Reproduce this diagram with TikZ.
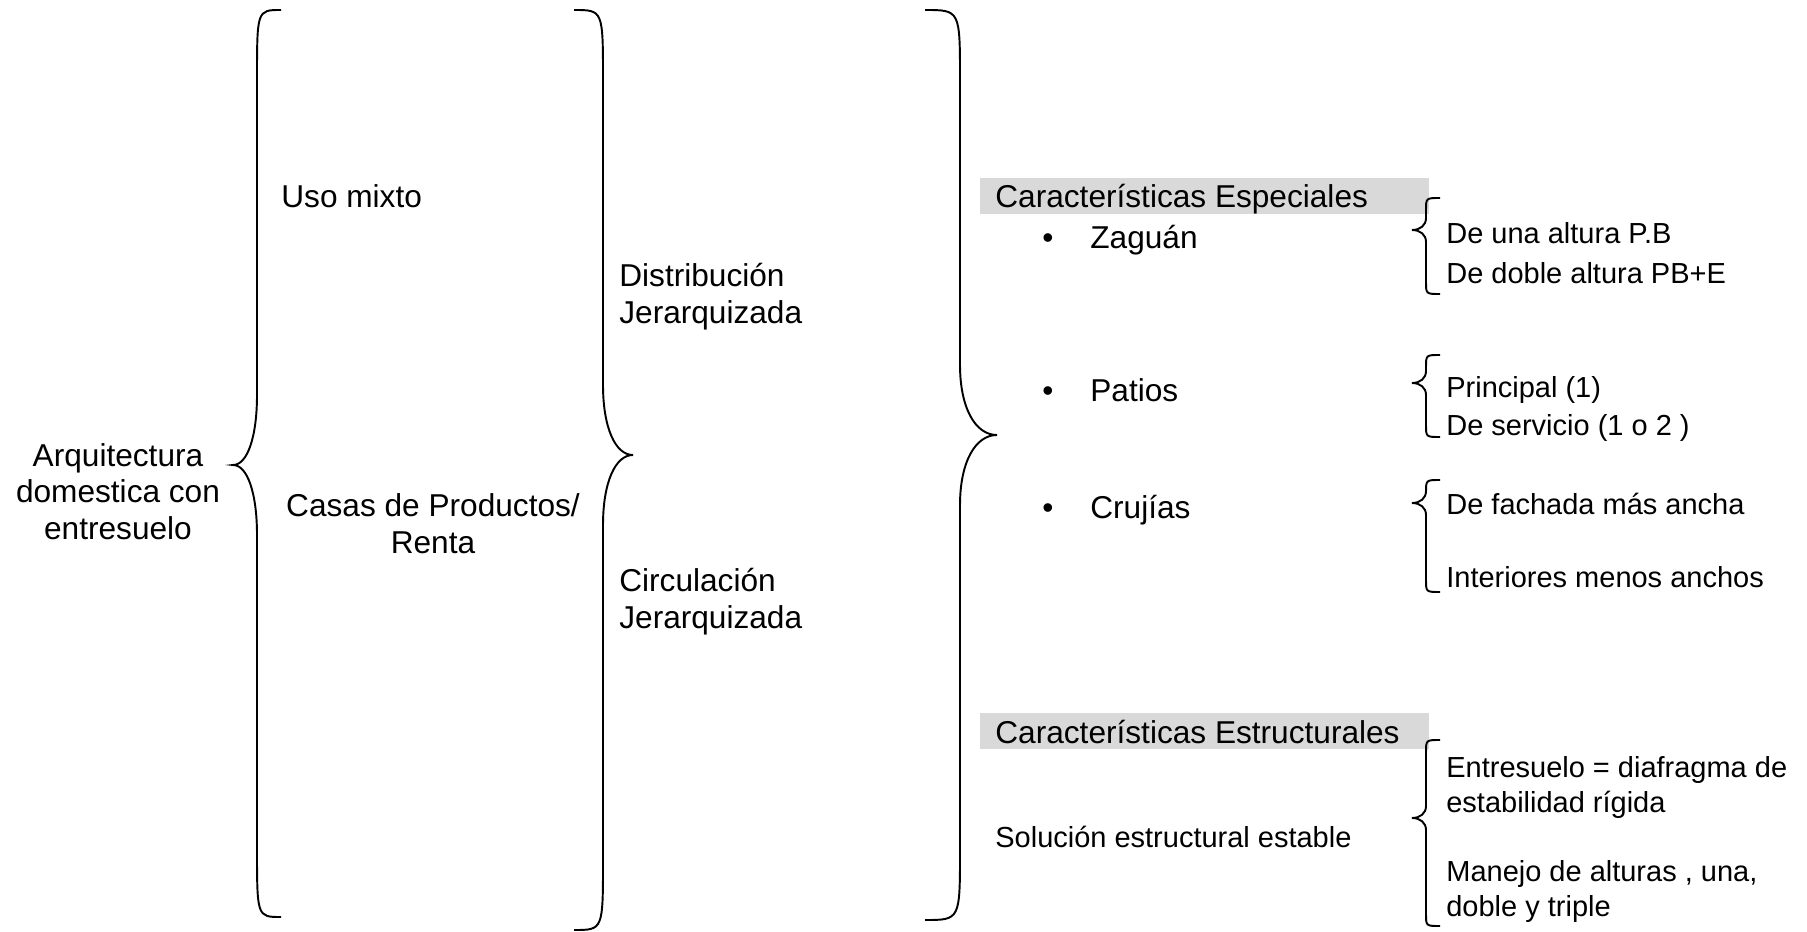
\documentclass[tikz,border=0pt]{standalone}
\usepackage{fontspec}
\setmainfont{Liberation Sans}

\definecolor{hdrgray}{HTML}{D9D9D9}

\tikzset{
  big/.style={font=\fontsize{18}{20.7}\selectfont, inner sep=0pt},
  small/.style={font=\fontsize{16.5}{19.5}\selectfont, inner sep=0pt},
  bracestroke/.style={line width=1.1pt},
  hdr/.style={big, fill=hdrgray, anchor=west, align=flush left,
    text width=8.38cm, inner xsep=0.3cm, inner ysep=0pt,
    minimum height=0.72cm, text height=0.52cm, text depth=0.04cm}
}

% curly brace: ends x, line x, tip x, top y, tip y, bottom y, bend
\newcommand{\curlyb}[7]{%
  \draw[bracestroke] (#1,#4) .. controls (#2,#4) .. ({#2},{#4+#7})
    -- ({#2},{#5-#7}) .. controls ({#2},{#5-0.4*#7}) and ({#2+0.4*(#3-#2)},{#5}) .. (#3,#5)
    .. controls ({#2+0.4*(#3-#2)},{#5}) and ({#2},{#5+0.4*#7}) .. ({#2},{#5+#7})
    -- ({#2},{#6-#7}) .. controls (#2,#6) .. (#1,#6);}

\begin{document}
\begin{tikzpicture}[x=0.02cm, y=-0.02cm]
  \useasboundingbox (0,0) rectangle (1807,932);

  \node[big, align=center, anchor=base] (arq) at (118,539) {Arquitectura\\domestica con\\entresuelo};
  \curlyb{281}{257}{233}{10}{465}{917}{70}

  \node[big, anchor=base west] (uso) at (281,208) {Uso mixto};
  \node[big, align=center, anchor=base] (casas) at (433,553) {Casas de Productos/\\Renta};
  \curlyb{574}{603}{633}{10}{455}{930}{70}

  \node[big, align=left, anchor=base west] (dist) at (619,323) {Distribución\\Jerarquizada};
  \node[big, align=left, anchor=base west] (circ) at (619,628) {Circulación\\Jerarquizada};
  \curlyb{925}{960}{997}{10}{435}{920}{70}

  % especiales
  \node[hdr] (espec) at (980,196) {Características Especiales};
  \node[big, anchor=base] (dot1) at (1048,249) {•};
  \node[big, anchor=base west] (zaguan) at (1090,249) {Zaguán};
  \node[big, anchor=base] (dot2) at (1048,401) {•};
  \node[big, anchor=base west] (patios) at (1090,401) {Patios};
  \node[big, anchor=base] (dot3) at (1048,518) {•};
  \node[big, anchor=base west] (crujias) at (1090,518) {Crujías};

  \curlyb{1440}{1426}{1412}{198}{230}{294}{12}
  \node[small, anchor=base west] (zag1) at (1446,244) {De una altura P.B};
  \node[small, anchor=base west] (zag2) at (1446,284) {De doble altura PB+E};
  \curlyb{1440}{1426}{1412}{355}{383}{437}{12}
  \node[small, anchor=base west] (pat1) at (1446,397) {Principal (1)};
  \node[small, anchor=base west] (pat2) at (1446,435) {De servicio (1 o 2 )};
  \curlyb{1440}{1426}{1412}{480}{503}{592}{12}
  \node[small, anchor=base west] (cru1) at (1446,514) {De fachada más ancha};
  \node[small, anchor=base west] (cru2) at (1446,587) {Interiores menos anchos};

  % estructurales
  \node[hdr] (estruc) at (980,731) {Características Estructurales};
  \node[small, anchor=base west] (sol) at (995,847) {Solución estructural estable};
  \curlyb{1440}{1426}{1412}{740}{818}{926}{12}
  \node[small, align=left, anchor=base west] (est1) at (1446,812) {Entresuelo = diafragma de\\estabilidad rígida};
  \node[small, align=left, anchor=base west] (est2) at (1446,916) {Manejo de alturas , una,\\doble y triple};
\end{tikzpicture}
\end{document}
